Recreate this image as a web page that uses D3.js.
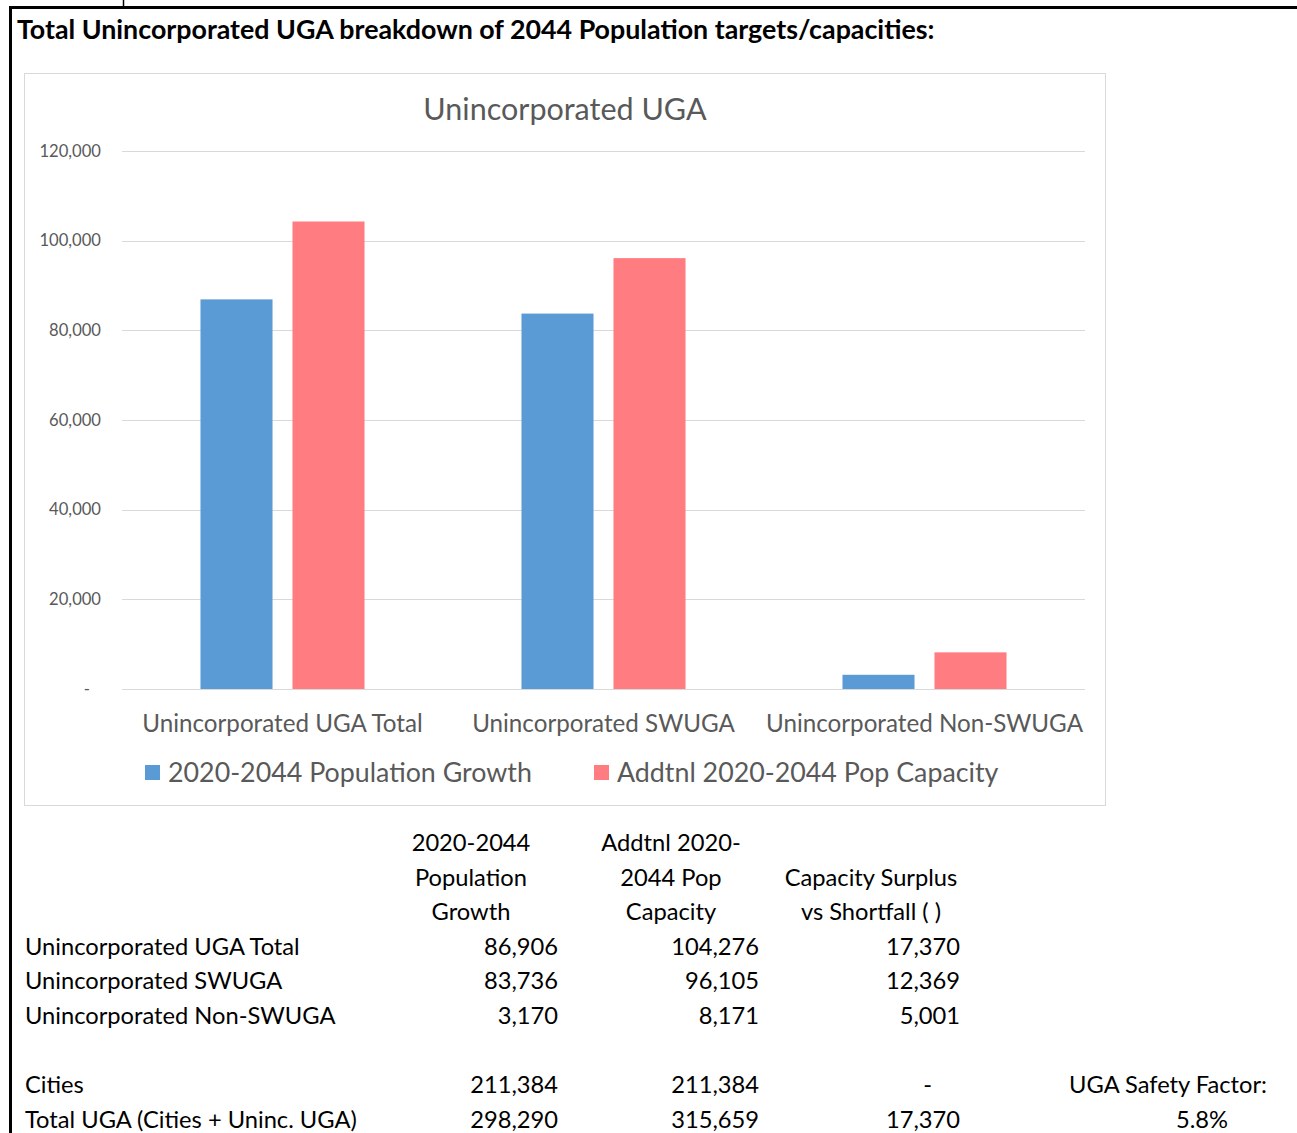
<!DOCTYPE html>
<html>
<head>
<meta charset="utf-8">
<script src="https://cdn.jsdelivr.net/npm/d3@7"></script>
<style>
  body { margin: 0; background: #fff; }
  svg text { font-family: Lato, "Open Sans", sans-serif; }
</style>
</head>
<body>
<svg id="page" width="1297" height="1133"></svg>
<script>
// chart data
const categories = ['Unincorporated UGA Total', 'Unincorporated SWUGA', 'Unincorporated Non-SWUGA']
const series = ['2020-2044 Population Growth', 'Addtnl 2020-2044 Pop Capacity']
const growth = [86906, 83736, 3170]
const capacity = [104276, 96105, 8171]
const yTicks = [0, 20000, 40000, 60000, 80000, 100000, 120000]

// table below the chart
const tableRows = ['Unincorporated UGA Total', 'Unincorporated SWUGA', 'Unincorporated Non-SWUGA', '', 'Cities', 'Total UGA (Cities + Uninc. UGA)']
const colGrowth = ['86,906', '83,736', '3,170', '', '211,384', '298,290']
const colCapacity = ['104,276', '96,105', '8,171', '', '211,384', '315,659']
const colSurplus = ['17,370', '12,369', '5,001', '', '-', '17,370']
const headGrowth = ['2020-2044', 'Population', 'Growth']
const headCapacity = ['Addtnl 2020-', '2044 Pop', 'Capacity']
const headSurplus = ['', 'Capacity Surplus', 'vs Shortfall ( )']

const colors = ['#5b9bd5', '#ff7c80']
const axisGrey = '#595959'

const svg = d3.select('#page')

// sheet frame (thick border top + left)
svg.append('line').attr('x1', 9).attr('x2', 1297).attr('y1', 7.5).attr('y2', 7.5)
  .attr('stroke', '#000').attr('stroke-width', 3)
svg.append('line').attr('x1', 10.5).attr('x2', 10.5).attr('y1', 6).attr('y2', 1133)
  .attr('stroke', '#000').attr('stroke-width', 3)
svg.append('line').attr('x1', 123.5).attr('x2', 123.5).attr('y1', 0).attr('y2', 6)
  .attr('stroke', '#000').attr('stroke-width', 1.5)

svg.append('text')
  .attr('x', 17).attr('y', 39)
  .attr('font-size', 26.8).attr('font-weight', 'bold').attr('fill', '#000')
  .text('Total Unincorporated UGA breakdown of 2044 Population targets/capacities:')

// chart box
svg.append('rect').attr('x', 24.5).attr('y', 73.5).attr('width', 1081).attr('height', 732)
  .attr('fill', '#fff').attr('stroke', '#d9d9d9')

svg.append('text')
  .attr('x', 565).attr('y', 120).attr('text-anchor', 'middle')
  .attr('font-size', 30.5).attr('fill', axisGrey)
  .text('Unincorporated UGA')

const plot = { left: 122, right: 1085, top: 151, bottom: 689 }

const x0 = d3.scaleBand().domain(categories).range([plot.left, plot.right])
const x1 = d3.scaleBand().domain(series).range([0, x0.bandwidth()])
  .paddingInner(0.217).paddingOuter(0.853)
const y = d3.scaleLinear().domain([0, 120000]).range([plot.bottom, plot.top])

// gridlines
svg.append('g').selectAll('line').data(yTicks.filter(d => d > 0)).join('line')
  .attr('x1', plot.left).attr('x2', plot.right)
  .attr('y1', d => Math.round(y(d)) + 0.5).attr('y2', d => Math.round(y(d)) + 0.5)
  .attr('stroke', '#d9d9d9').attr('stroke-width', 1)

// y axis labels
const yAxis = svg.append('g')
  .attr('transform', `translate(${plot.left - 21},0)`)
  .call(d3.axisLeft(y).tickValues(yTicks).tickSize(0).tickPadding(0)
    .tickFormat(d => d === 0 ? '-' : d3.format(',')(d)))
yAxis.select('.domain').remove()
yAxis.selectAll('text')
  .attr('font-family', 'Lato, "Open Sans", sans-serif')
  .attr('font-size', 16.6).attr('fill', axisGrey)
yAxis.selectAll('.tick').filter(d => d === 0).select('text').attr('dx', -11)

// bars
const groups = svg.append('g').selectAll('g').data(categories).join('g')
  .attr('transform', d => `translate(${x0(d)},0)`)
groups.selectAll('rect')
  .data((d, i) => [{ s: series[0], v: growth[i] }, { s: series[1], v: capacity[i] }])
  .join('rect')
  .attr('x', d => x1(d.s))
  .attr('y', d => y(d.v))
  .attr('width', x1.bandwidth())
  .attr('height', d => y(0) - y(d.v))
  .attr('fill', (d, i) => colors[i])

// baseline
svg.append('line').attr('x1', plot.left).attr('x2', plot.right)
  .attr('y1', plot.bottom + 0.5).attr('y2', plot.bottom + 0.5)
  .attr('stroke', '#d9d9d9')

// category axis
const xAxis = svg.append('g')
  .attr('transform', `translate(0,${plot.bottom})`)
  .call(d3.axisBottom(x0).tickSize(0).tickPadding(0))
xAxis.select('.domain').remove()
xAxis.selectAll('text')
  .attr('font-family', 'Lato, "Open Sans", sans-serif')
  .attr('font-size', 24.2).attr('fill', axisGrey)
  .attr('dy', 0).attr('y', 43)

// legend
const legendX = [145, 594]
const legend = svg.append('g').selectAll('g').data(series).join('g')
  .attr('transform', (d, i) => `translate(${legendX[i]},765)`)
legend.append('rect').attr('width', 15).attr('height', 15).attr('fill', (d, i) => colors[i])
legend.append('text').attr('x', 23).attr('y', 16.5)
  .attr('font-size', 26.8).attr('fill', axisGrey).text(d => d)

// table
const rowY = i => 843 + i * 34.6
const tbl = svg.append('g').attr('font-size', 23.7).attr('fill', '#000')
const headCols = [
  { lines: headGrowth, cx: 471 },
  { lines: headCapacity, cx: 671 },
  { lines: headSurplus, cx: 871 }
]
headCols.forEach(c => {
  tbl.append('g').selectAll('text').data(c.lines).join('text')
    .attr('x', c.cx).attr('y', (d, i) => rowY(i) + 8)
    .attr('text-anchor', 'middle').text(d => d)
})
tbl.append('g').selectAll('text').data(tableRows).join('text')
  .attr('x', 25).attr('y', (d, i) => rowY(i + 3) + 8).text(d => d)
const valueCols = [
  { vals: colGrowth, rx: 558 },
  { vals: colCapacity, rx: 759 },
  { vals: colSurplus, rx: 960 }
]
valueCols.forEach(c => {
  tbl.append('g').selectAll('text').data(c.vals).join('text')
    .attr('x', (d, i) => d === '-' ? c.rx - 28 : c.rx)
    .attr('y', (d, i) => rowY(i + 3) + 8)
    .attr('text-anchor', 'end').text(d => d)
})
tbl.append('text').attr('x', 1267).attr('y', rowY(7) + 8).attr('text-anchor', 'end')
  .text('UGA Safety Factor:')
tbl.append('text').attr('x', 1228).attr('y', rowY(8) + 8).attr('text-anchor', 'end')
  .text('5.8%')
</script>
</body>
</html>
